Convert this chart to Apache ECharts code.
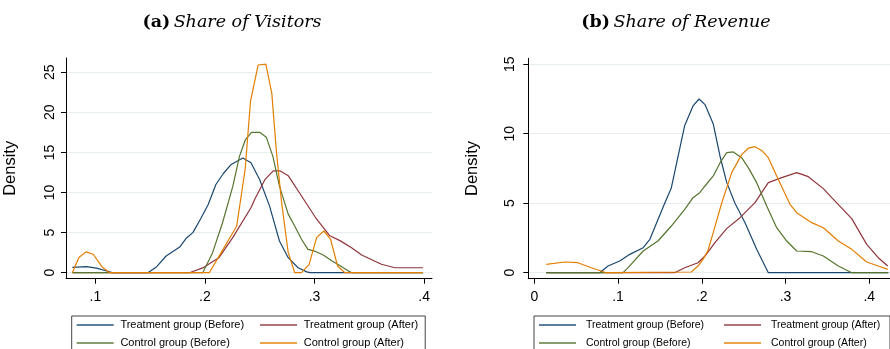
<!DOCTYPE html>
<html>
<head>
<meta charset="utf-8">
<script src="https://cdn.jsdelivr.net/npm/echarts@6/dist/echarts.min.js"></script>
<style>
  html, body { margin: 0; padding: 0; background: #fff; }
  #chart { width: 890px; height: 349px; }
</style>
</head>
<body>
<div id="chart"></div>
<script>
// panel (a): share of visitors, [x, density]
const visTreatBefore = [[0.079,0.67],[0.092,0.75],[0.101,0.58],[0.113,0.12],[0.116,0],[0.148,0],[0.156,0.75],
  [0.1646,2.08],[0.177,3.2],[0.183,4.3],[0.189,5.0],[0.196,6.7],[0.203,8.5],[0.210,11.0],[0.217,12.4],[0.224,13.5],
  [0.2346,14.3],[0.242,13.7],[0.250,11.6],[0.259,8.3],[0.268,3.95],[0.276,1.87],[0.285,0.62],[0.293,0.1],[0.296,0],[0.399,0]];
const visTreatAfter = [[0.079,0],[0.1858,0],[0.198,0.6],[0.213,1.9],[0.2255,4.4],[0.242,8.1],[0.2456,9.2],[0.2547,11.6],
  [0.2623,12.7],[0.2684,12.7],[0.276,12.1],[0.288,9.6],[0.3018,6.7],[0.314,4.6],[0.3232,4.0],[0.3338,3.1],[0.343,2.2],
  [0.361,1.05],[0.3734,0.62],[0.3856,0.62],[0.399,0.62]];
const visCtrlBefore = [[0.079,0],[0.198,0],[0.207,2.5],[0.216,6.2],[0.2255,10.8],[0.2315,14.5],[0.237,16.6],[0.2425,17.5],
  [0.250,17.5],[0.256,16.9],[0.262,14.5],[0.268,10.8],[0.276,7.3],[0.282,5.8],[0.288,4.2],[0.294,2.9],[0.300,2.7],
  [0.308,2.2],[0.316,1.46],[0.323,0.9],[0.331,0.2],[0.334,0],[0.399,0]];
const visCtrlAfter = [[0.079,0],[0.085,1.9],[0.0915,2.6],[0.098,2.3],[0.106,0.75],[0.113,0],[0.204,0],[0.2148,2.5],
  [0.222,4.2],[0.229,5.8],[0.2367,12.9],[0.2416,21.4],[0.2486,25.9],[0.2556,26.0],[0.261,22.4],[0.2653,15.0],[0.270,8.7],
  [0.276,2.5],[0.282,0],[0.288,0],[0.295,1.0],[0.302,4.4],[0.3086,5.2],[0.3146,4.2],[0.321,0.84],[0.3277,0],[0.399,0]];

// panel (b): share of revenue
const revTreatBefore = [[0.0143,0],[0.078,0],[0.088,0.48],[0.102,0.84],[0.114,1.32],[0.130,1.8],[0.138,2.4],[0.1557,5.0],
  [0.1636,6.1],[0.1796,10.6],[0.1895,12.0],[0.1967,12.5],[0.2038,12.1],[0.2137,10.7],[0.2217,8.4],[0.2297,6.5],
  [0.2396,5.0],[0.2516,3.6],[0.2655,1.68],[0.2794,0],[0.4227,0]];
const revTreatAfter = [[0.0143,0],[0.1676,0],[0.1796,0.36],[0.1955,0.72],[0.2038,1.2],[0.2157,2.16],[0.2297,3.17],
  [0.2456,3.96],[0.2635,5.04],[0.2794,6.48],[0.2954,6.84],[0.3133,7.2],[0.3272,6.91],[0.3451,6.05],[0.3551,5.4],
  [0.379,3.89],[0.3969,2.04],[0.4107,1.08],[0.422,0.48]];
const revCtrlBefore = [[0.0143,0],[0.106,0],[0.112,0.36],[0.130,1.56],[0.148,2.3],[0.1636,3.36],[0.1796,4.56],
  [0.1895,5.4],[0.1975,5.76],[0.2038,6.24],[0.2137,6.96],[0.2217,7.9],[0.2297,8.64],[0.2376,8.69],[0.2476,8.28],
  [0.2555,7.56],[0.2655,6.48],[0.2775,4.8],[0.2894,3.24],[0.3014,2.28],[0.3133,1.56],[0.3312,1.51],[0.3451,1.2],
  [0.363,0.48],[0.379,0],[0.4227,0]];
const revCtrlAfter = [[0.0143,0.6],[0.0363,0.77],[0.052,0.72],[0.068,0.36],[0.086,0],[0.1875,0.05],[0.1955,0.48],
  [0.2014,0.96],[0.2074,1.6],[0.2137,2.9],[0.2237,5.0],[0.2357,7.2],[0.2476,8.5],[0.2555,8.96],[0.2635,9.07],
  [0.2715,8.8],[0.2794,8.28],[0.2894,6.96],[0.3053,4.92],[0.3133,4.32],[0.3312,3.6],[0.3451,3.24],[0.363,2.28],
  [0.379,1.68],[0.3969,0.77],[0.4107,0.48],[0.422,0.24]];

const visXTicks = [0.1, 0.2, 0.3, 0.4];
const visYTicks = [0, 5, 10, 15, 20, 25];
const revXTicks = [0, 0.1, 0.2, 0.3, 0.4];
const revYTicks = [0, 5, 10, 15];

const names = ['Treatment group (Before)', 'Treatment group (After)', 'Control group (Before)', 'Control group (After)'];
const colors = ['#1a476f', '#90353b', '#55752f', '#e37e00'];

const sans = 'Liberation Sans';
const serif = 'DejaVu Serif';

function fmtX(v) {
  if (Math.abs(v) < 1e-9) return '0';
  return String(+v.toFixed(1)).replace(/^0\./, '.');
}

function xAxis(grid, min, max, ticks) {
  return {
    type: 'value', gridIndex: grid, min: min, max: max,
    axisLine: { onZero: false, lineStyle: { color: '#000', width: 1 } },
    axisTick: { customValues: ticks, length: 5, lineStyle: { color: '#000' } },
    axisLabel: { customValues: ticks, formatter: fmtX, margin: 11, color: '#000', fontFamily: sans, fontSize: 14 },
    splitLine: { show: false }
  };
}

function yAxis(grid, min, max, ticks, margin) {
  return {
    type: 'value', gridIndex: grid, min: min, max: max,
    name: 'Density', nameLocation: 'middle', nameGap: 47,
    nameTextStyle: { fontFamily: sans, fontSize: 16.5, color: '#000' },
    axisLine: { show: true, onZero: false, lineStyle: { color: '#000', width: 1 } },
    axisTick: { show: true, customValues: ticks, length: 5, lineStyle: { color: '#000' } },
    axisLabel: { customValues: ticks, rotate: 90, margin: margin, color: '#000', fontFamily: sans, fontSize: 14 },
    splitLine: { show: true, lineStyle: { color: '#e6eef0', width: 1 } }
  };
}

function lines(grid, sets) {
  return sets.map((d, i) => ({
    name: names[i], type: 'line', xAxisIndex: grid, yAxisIndex: grid,
    data: d, symbol: 'none', smooth: false, animation: false,
    lineStyle: { color: colors[i], width: 1.2 }, itemStyle: { color: colors[i] }
  }));
}

function legend(left, w1, w2, size, pad) {
  return {
    left: left, top: 316, width: 360, orient: 'horizontal',
    padding: [3, 7, 3, 5], itemGap: 6, itemWidth: 37, itemHeight: 2,
    borderColor: '#444', borderWidth: 1, borderRadius: 0,
    selectedMode: false, icon: 'rect',
    itemStyle: { opacity: 0.7 },
    textStyle: { fontFamily: sans, fontSize: size, color: '#000', lineHeight: 12, padding: [0, 0, 0, pad] },
    data: names.map((n, i) => ({ name: n, textStyle: { width: i % 2 ? w2 : w1 } }))
  };
}

const chart = echarts.init(document.getElementById('chart'), null, { renderer: 'canvas' });
chart.setOption({
  backgroundColor: '#fff',
  animation: false,
  graphic: [
    { type: 'text', x: 232, y: 22, style: {
      text: '{b|(a)} {i|Share of Visitors}', align: 'center', verticalAlign: 'middle', fill: '#000',
      rich: { b: { fontFamily: serif, fontWeight: 'bold', fontSize: 17.5 }, i: { fontFamily: serif, fontStyle: 'italic', fontSize: 17.5 } } } },
    { type: 'text', x: 676, y: 22, style: {
      text: '{b|(b)} {i|Share of Revenue}', align: 'center', verticalAlign: 'middle', fill: '#000',
      rich: { b: { fontFamily: serif, fontWeight: 'bold', fontSize: 17.5 }, i: { fontFamily: serif, fontStyle: 'italic', fontSize: 17.5 } } } }
  ],
  grid: [
    { left: 66, top: 58, width: 366, height: 220.7 },
    { left: 528.3, top: 58.3, width: 361.7, height: 220.4 }
  ],
  xAxis: [
    xAxis(0, 0.07324, 0.4072, visXTicks),
    xAxis(1, -0.00716, 0.4247, revXTicks)
  ],
  yAxis: [
    yAxis(0, -0.748, 26.77, visYTicks, 9),
    yAxis(1, -0.432, 15.43, revYTicks, 11)
  ],
  legend: [
    legend(71.7, 133.6, 112, 11, 1.7),
    legend(534, 132, 112, 10.5, 5)
  ],
  series: lines(0, [visTreatBefore, visTreatAfter, visCtrlBefore, visCtrlAfter])
    .concat(lines(1, [revTreatBefore, revTreatAfter, revCtrlBefore, revCtrlAfter]))
});
</script>
</body>
</html>
